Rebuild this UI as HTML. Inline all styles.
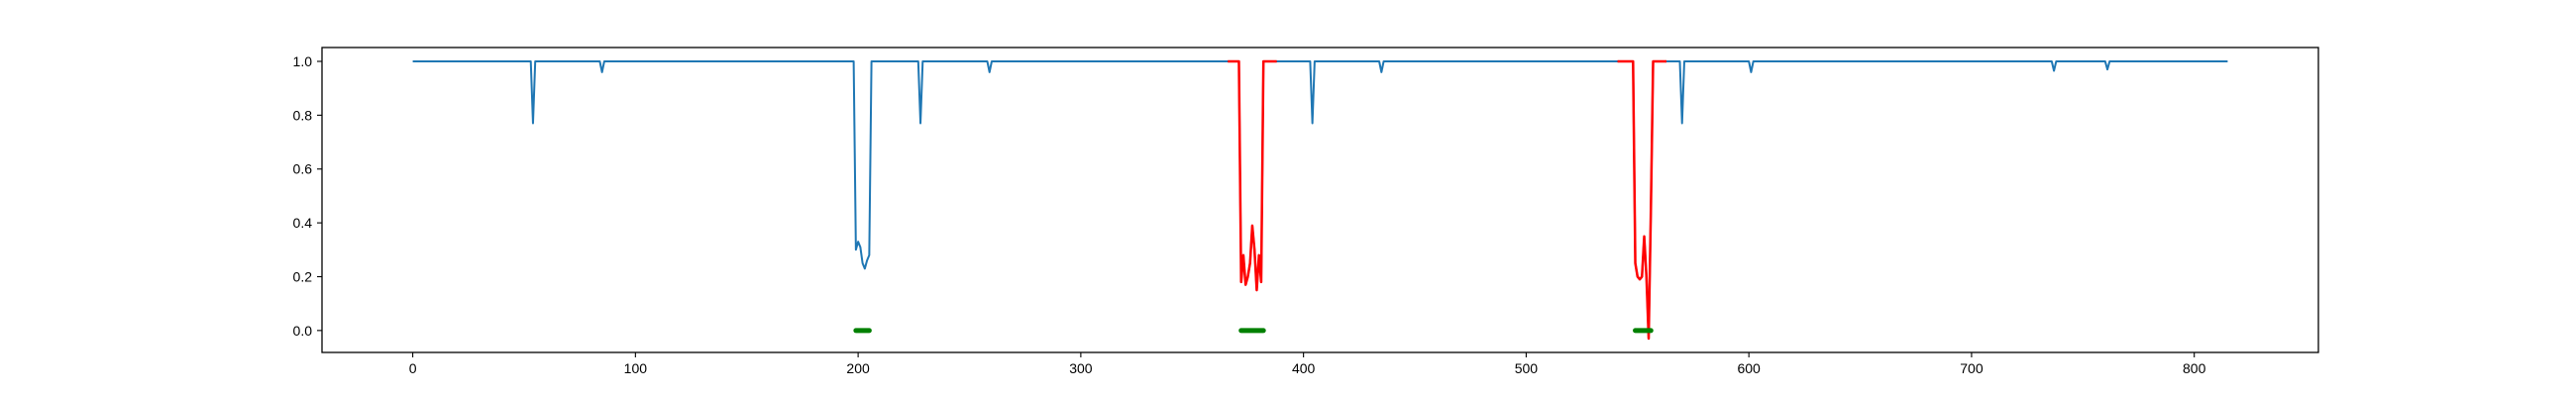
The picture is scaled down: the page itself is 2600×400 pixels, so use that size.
<!DOCTYPE html>
<html><head><meta charset="utf-8"><style>
html,body{margin:0;padding:0;background:#fff;}
svg{display:block;font-family:"Liberation Sans","DejaVu Sans",sans-serif;}
</style></head><body>
<svg id="chart" width="2600" height="400" xmlns="http://www.w3.org/2000/svg">
<rect x="0" y="0" width="2600" height="400" fill="#fff"/>
<g id="plot"></g>
<g id="axes"></g>
</svg>
<script>
const N = 816;
const dipIdx = [54, 85, 199, 200, 201, 202, 203, 204, 205, 228, 259, 404, 435, 570, 601, 737, 761];
const dipVal = [0.77, 0.96, 0.30, 0.33, 0.31, 0.25, 0.23, 0.26, 0.28, 0.77, 0.96, 0.77, 0.96, 0.77, 0.96, 0.965, 0.97];
const red1X = [366, 367, 368, 369, 370, 371, 372, 373, 374, 375, 376, 377, 378, 379, 380, 381, 382, 383, 384, 385, 386, 387, 388];
const red1Y = [1, 1, 1, 1, 1, 1, 0.18, 0.28, 0.17, 0.2, 0.25, 0.39, 0.3, 0.15, 0.28, 0.18, 1, 1, 1, 1, 1, 1, 1];
const red2X = [541, 542, 543, 544, 545, 546, 547, 548, 549, 550, 551, 552, 553, 554, 555, 556, 557, 558, 559, 560, 561, 562, 563];
const red2Y = [1, 1, 1, 1, 1, 1, 1, 1, 0.25, 0.2, 0.19, 0.2, 0.35, 0.2, -0.03, 0.45, 1, 1, 1, 1, 1, 1, 1];
const greenSegStart = [199, 372, 549];
const greenSegEnd = [205, 382, 556];
const xTicks = [0, 100, 200, 300, 400, 500, 600, 700, 800];
const yTicks = [0.0, 0.2, 0.4, 0.6, 0.8, 1.0];
const yTickLabels = ["0.0", "0.2", "0.4", "0.6", "0.8", "1.0"];

const L = 325, R = 2340, T = 48, B = 356;
const xMin = -40.75, xMax = 855.75, yMin = -0.0815, yMax = 1.0515;
const sx = v => L + (v - xMin) / (xMax - xMin) * (R - L);
const sy = v => B - (v - yMin) / (yMax - yMin) * (B - T);
const NS = "http://www.w3.org/2000/svg";
const plot = document.getElementById('plot');
const axes = document.getElementById('axes');
function mk(tag, attrs, parent) {
  const e = document.createElementNS(NS, tag);
  for (const k in attrs) e.setAttribute(k, attrs[k]);
  parent.appendChild(e);
  return e;
}
const blue = new Array(N).fill(1);
dipIdx.forEach((i, k) => { blue[i] = dipVal[k]; });
for (let k = 0; k < red1X.length; k++) blue[red1X[k]] = red1Y[k];
for (let k = 0; k < red2X.length; k++) blue[red2X[k]] = red2Y[k];
let d = blue.map((v, i) => (i ? 'L' : 'M') + sx(i).toFixed(2) + ' ' + sy(v).toFixed(2)).join('');
const bl = mk('path', {d: d, fill: 'none', stroke: '#1f77b4', 'stroke-width': 2, 'stroke-linejoin': 'round'}, plot);


[[red1X, red1Y], [red2X, red2Y]].forEach((s, j) => {
  const dd = s[0].map((x, i) => (i ? 'L' : 'M') + sx(x).toFixed(2) + ' ' + sy(s[1][i]).toFixed(2)).join('');
  const p = mk('path', {d: dd, fill: 'none', stroke: '#ff0000', 'stroke-width': 2.5, 'stroke-linejoin': 'round'}, plot);
  
  
});
greenSegStart.forEach((s, j) => {
  const g = mk('line', {x1: sx(s), x2: sx(greenSegEnd[j]), y1: sy(0), y2: sy(0), stroke: '#008000', 'stroke-width': 5, 'stroke-linecap': 'round'}, plot);
  
  
});
const fr = mk('rect', {x: L, y: T, width: R - L, height: B - T, fill: 'none', stroke: '#000', 'stroke-width': 1.3}, axes);


xTicks.forEach(v => {
  const x = sx(v);
  const t = mk('line', {x1: x, x2: x, y1: B, y2: B + 5, stroke: '#000', 'stroke-width': 1.1}, axes);
  
  
  const tx = mk('text', {x: x, y: B + 21, 'font-size': 14, 'text-anchor': 'middle', fill: '#000'}, axes);
  tx.textContent = String(v);
  
  
});
yTicks.forEach((v, i) => {
  const y = sy(v);
  const t = mk('line', {x1: L - 5, x2: L, y1: y, y2: y, stroke: '#000', 'stroke-width': 1.1}, axes);
  
  
  const tx = mk('text', {x: L - 10, y: y + 5, 'font-size': 14, 'text-anchor': 'end', fill: '#000'}, axes);
  tx.textContent = yTickLabels[i];
  
  
});
</script>
</body></html>
